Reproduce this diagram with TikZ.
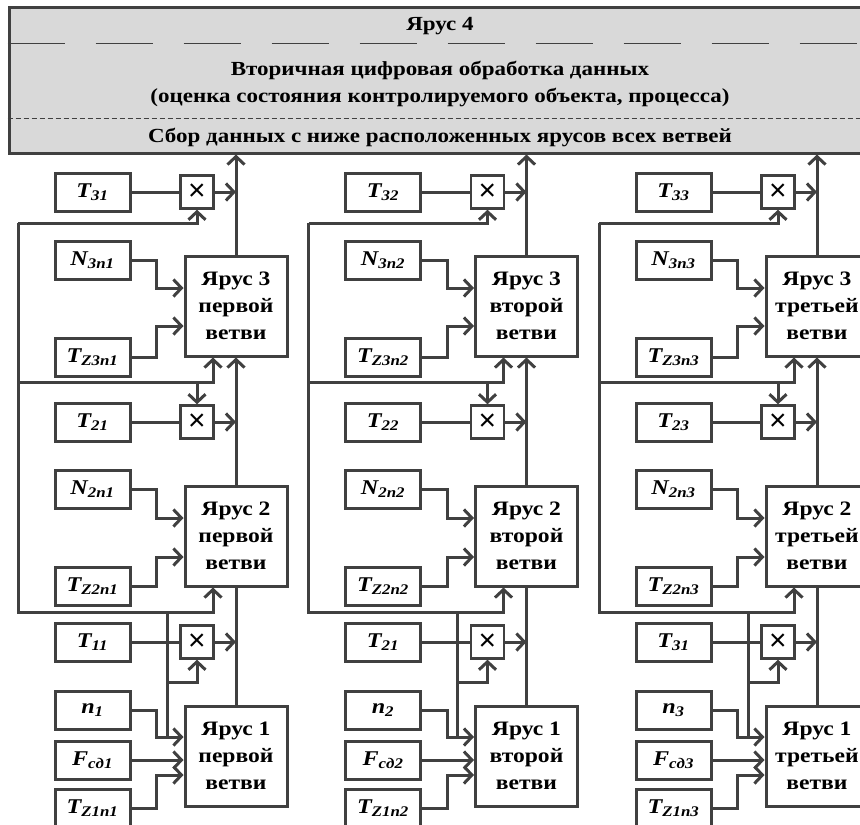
\documentclass[tikz,border=0pt]{standalone}
\usepackage{fontspec}
\setmainfont[FakeStretch=1.15]{Liberation Serif}
\newfontfamily\crossfont{Liberation Sans}
\usetikzlibrary{arrows.meta}
\definecolor{figline}{HTML}{404040}
\definecolor{figfill}{HTML}{D9D9D9}
\newcommand{\figfont}{\fontsize{20.5}{27}\selectfont\bfseries}
\newcommand{\hdrfont}{\fontsize{20}{27}\selectfont\bfseries}
\newcommand{\tlbl}[2]{{\bfseries\itshape #1\textsubscript{#2}}}

\begin{document}
\begin{tikzpicture}[x=1pt,y=-1pt,
  wire/.style={draw=figline,line width=3pt},
  topbox/.style={wire,fill=figfill,minimum width=862pt,minimum height=146pt,inner sep=0pt},
  hdr/.style={font=\hdrfont,align=center,inner sep=0pt},
  yarus/.style={wire,minimum width=102pt,minimum height=100pt,inner sep=0pt,
                align=center,font=\figfont},
  inp/.style={wire,minimum width=75pt,minimum height=38pt,inner sep=0pt,
              font=\fontsize{21}{24}\selectfont},
  mul/.style={draw=figline,line width=2.4pt,minimum size=33pt,inner sep=0pt,
              font=\fontsize{30}{30}\selectfont\crossfont},
  >={Straight Barb[length=8pt,width=17pt]}
]
\useasboundingbox (0,0) rectangle (860,825);
\clip (0,0) rectangle (860,825);

% tier 4
\node[topbox] (y4) at (440,80) {};
\node[hdr] (y4a) at (440,26) {Ярус 4};
\node[hdr] (y4b) at (440,84) {Вторичная цифровая обработка данных\\
  (оценка состояния контролируемого объекта, процесса)};
\node[hdr] (y4c) at (440,137) {Сбор данных с ниже расположенных ярусов всех ветвей};
\draw[figline,line width=1pt,dash pattern=on 57pt off 31pt] (y4.west |- 0,43) -- (y4.east |- 0,43);
\draw[figline,line width=0.9pt,dash pattern=on 5pt off 3pt] (y4.west |- 0,118) -- (y4.east |- 0,118);

% branches
\foreach \br/\dx/\wrd/\ta/\tb/\tc in {1/0/первой/31/21/11, 2/290.5/второй/32/22/21, 3/581/третьей/33/23/31}{
\begin{scope}[xshift=\dx pt]
  \node[inp] (t3-\br) at (92.5,192) {\tlbl{T}{\ta}};
  \node[mul] (m3-\br) at (197,192) {×};
  \node[inp] (n3-\br) at (92.5,260) {\tlbl{N}{3n\br}};
  \node[yarus] (y3-\br) at (236,306) {Ярус 3\\\wrd\\ветви};
  \node[inp] (z3-\br) at (92.5,357) {\tlbl{T}{Z3n\br}};
  \node[inp] (t2-\br) at (92.5,422) {\tlbl{T}{\tb}};
  \node[mul] (m2-\br) at (197,422) {×};
  \node[inp] (n2-\br) at (92.5,489) {\tlbl{N}{2n\br}};
  \node[yarus] (y2-\br) at (236,536) {Ярус 2\\\wrd\\ветви};
  \node[inp] (z2-\br) at (92.5,586) {\tlbl{T}{Z2n\br}};
  \node[inp] (t1-\br) at (92.5,642) {\tlbl{T}{\tc}};
  \node[mul] (m1-\br) at (197,642) {×};
  \node[inp] (nn-\br) at (92.5,710) {\tlbl{n}{\br}};
  \node[inp] (f-\br) at (92.5,760) {\tlbl{F}{сд\br}};
  \node[yarus] (y1-\br) at (236,756) {Ярус 1\\\wrd\\ветви};
  \node[inp] (z1-\br) at (92.5,808) {\tlbl{T}{Z1n\br}};

  \coordinate (tap-\br) at (167,737);
  \coordinate (bot-\br) at (167,612);
  \coordinate (brm-\br) at (167,682);
  \coordinate (lb-\br) at (18,612);
  \coordinate (lm-\br) at (18,382);
  \coordinate (lt-\br) at (18,223);

  % outputs upward
  \draw[wire] (y1-\br.north) -- (y2-\br.south);
  \draw[wire,->] (y2-\br.north) -- (y3-\br.south);
  \draw[wire,->] (y3-\br.north) -- (y3-\br.north |- y4.south);
  \draw[wire] (t3-\br) -- (m3-\br);
  \draw[wire] (t2-\br) -- (m2-\br);
  \draw[wire] (t1-\br) -- (m1-\br);
  \draw[wire,->] (m3-\br.east) -- (m3-\br.east -| y3-\br.north);
  \draw[wire,->] (m2-\br.east) -- (m2-\br.east -| y2-\br.north);
  \draw[wire,->] (m1-\br.east) -- (m1-\br.east -| y1-\br.north);

  % inputs
  \draw[wire,->] (n3-\br.east) -- ++(25,0) |- ([yshift=18pt]y3-\br.west);
  \draw[wire,->] (z3-\br.east) -- ++(25,0) |- ([yshift=-20pt]y3-\br.west);
  \draw[wire,->] (n2-\br.east) -- ++(25,0) |- ([yshift=18pt]y2-\br.west);
  \draw[wire,->] (z2-\br.east) -- ++(25,0) |- ([yshift=-21pt]y2-\br.west);
  \draw[wire,->] (nn-\br.east) -- ++(25,0) |- ([yshift=19pt]y1-\br.west);
  \draw[wire,->] (f-\br.east) -- (f-\br.east -| y1-\br.west);
  \draw[wire,->] (z1-\br.east) -- ++(25,0) |- ([yshift=-19pt]y1-\br.west);

  % feedback
  \draw[wire] (tap-\br) -- (bot-\br) -- (lb-\br) -- (lt-\br);
  \draw[wire,->] (bot-\br) -| ([xshift=-23pt]y2-\br.south);
  \draw[wire,->] (brm-\br) -| (m1-\br.south);
  \draw[wire,->] (lm-\br) -| ([xshift=-23pt]y3-\br.south);
  \draw[wire,->] (lm-\br -| m2-\br.north) -- (m2-\br.north);
  \draw[wire,->] (lt-\br) -| (m3-\br.south);
\end{scope}
}
\end{tikzpicture}
\end{document}
